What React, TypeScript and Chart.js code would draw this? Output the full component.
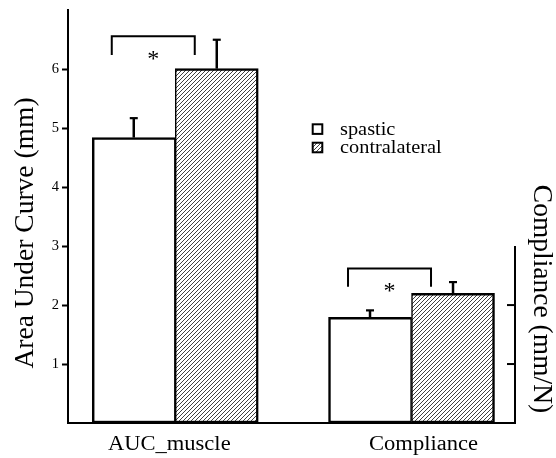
import React, { useEffect, useRef } from 'react';
import { Chart, registerables } from 'chart.js';

Chart.register(...registerables);

const categories = ['AUC_muscle', 'Compliance'];
const seriesNames = ['spastic', 'contralateral'];
const spastic = [4.84, 1.79];
const contralateral = [6.01, 2.2];
const spasticErr = [0.33, 0.12];
const contralateralErr = [0.49, 0.19];
const bracketTop = [6.56, 2.62];
const bracketBottom = [6.24, 2.31];
const significance = ['*', '*'];
const leftTicks = [1, 2, 3, 4, 5, 6];
const rightTicks = [1, 2];
const leftAxisMax = 7;
const rightAxisMax = 3;
const leftTitle = 'Area Under Curve (mm)';
const rightTitle = 'Compliance (mm/N)';

const SERIF = '"Liberation Serif", "Times New Roman", serif';

function makeHatch(): CanvasPattern | string {
  const c = document.createElement('canvas');
  c.width = 4;
  c.height = 4;
  const g = c.getContext('2d');
  if (!g) return '#888';
  g.fillStyle = '#fff';
  g.fillRect(0, 0, 4, 4);
  g.strokeStyle = '#2a2a2a';
  g.lineWidth = 0.9;
  g.beginPath();
  g.moveTo(0, 4);
  g.lineTo(4, 0);
  g.moveTo(-1, 1);
  g.lineTo(1, -1);
  g.moveTo(3, 5);
  g.lineTo(5, 3);
  g.stroke();
  return g.createPattern(c, 'repeat') || '#888';
}

function stretchedText(ctx: CanvasRenderingContext2D, text: string, x: number, y: number, sx: number, align: CanvasTextAlign) {
  ctx.save();
  ctx.translate(x, y);
  ctx.scale(sx, 1);
  ctx.textAlign = align;
  ctx.textBaseline = 'alphabetic';
  ctx.fillText(text, 0, 0);
  ctx.restore();
}

export default function App() {
  const ref = useRef<HTMLCanvasElement | null>(null);

  useEffect(() => {
    const canvas = ref.current;
    if (!canvas) return;
    const hatch = makeHatch();
    const values = [spastic, contralateral];
    const errors = [spasticErr, contralateralErr];
    const labelNudge = [-6, 12];

    const overlay = {
      id: 'overlay',
      afterDraw(chart: any) {
        const ctx: CanvasRenderingContext2D = chart.ctx;
        const area = chart.chartArea;
        const y = chart.scales.y;
        const y2 = chart.scales.y2;
        ctx.save();
        ctx.strokeStyle = '#000';
        ctx.fillStyle = '#000';
        ctx.lineCap = 'butt';

        // right axis (Compliance)
        ctx.lineWidth = 2;
        ctx.beginPath();
        ctx.moveTo(area.right, y2.getPixelForValue(0) + 1);
        ctx.lineTo(area.right, y2.getPixelForValue(rightAxisMax));
        ctx.stroke();
        rightTicks.forEach((v) => {
          const py = y2.getPixelForValue(v);
          ctx.beginPath();
          ctx.moveTo(area.right - 8, py);
          ctx.lineTo(area.right, py);
          ctx.stroke();
        });

        // error bars
        [0, 1].forEach((d) => {
          const meta = chart.getDatasetMeta(d);
          meta.data.forEach((bar: any, i: number) => {
            const top = y.getPixelForValue(values[d][i]);
            const et = y.getPixelForValue(values[d][i] + errors[d][i]);
            ctx.lineWidth = 2.5;
            ctx.beginPath();
            ctx.moveTo(bar.x, top);
            ctx.lineTo(bar.x, et);
            ctx.stroke();
            ctx.lineWidth = 2.2;
            ctx.beginPath();
            ctx.moveTo(bar.x - 4, et);
            ctx.lineTo(bar.x + 4, et);
            ctx.stroke();
          });
        });

        // significance brackets
        categories.forEach((_, i) => {
          const a = chart.getDatasetMeta(0).data[i].x - 22;
          const b = chart.getDatasetMeta(1).data[i].x - 22;
          const t = y.getPixelForValue(bracketTop[i]);
          const bt = y.getPixelForValue(bracketBottom[i]);
          ctx.lineWidth = 2;
          ctx.beginPath();
          ctx.moveTo(a, bt);
          ctx.lineTo(a, t);
          ctx.lineTo(b, t);
          ctx.lineTo(b, bt);
          ctx.stroke();
          ctx.font = `24px ${SERIF}`;
          ctx.textAlign = 'center';
          ctx.textBaseline = 'alphabetic';
          ctx.fillText(significance[i], (a + b) / 2, bt + 11);
        });

        // category labels
        ctx.font = `20.5px ${SERIF}`;
        categories.forEach((c, i) => {
          const cx = (chart.getDatasetMeta(0).data[i].x + chart.getDatasetMeta(1).data[i].x) / 2;
          stretchedText(ctx, c, cx + labelNudge[i], 450, 1.1, 'center');
        });

        // legend
        ctx.lineWidth = 2;
        ctx.fillStyle = '#fff';
        ctx.fillRect(312.7, 124.3, 9.6, 9.6);
        ctx.strokeRect(312.7, 124.3, 9.6, 9.6);
        ctx.fillStyle = hatch as any;
        ctx.fillRect(312.7, 142.7, 9.6, 9.6);
        ctx.strokeRect(312.7, 142.7, 9.6, 9.6);
        ctx.fillStyle = '#000';
        ctx.font = `18.5px ${SERIF}`;
        stretchedText(ctx, seriesNames[0], 340, 134.5, 1.1, 'left');
        stretchedText(ctx, seriesNames[1], 340, 153, 1.1, 'left');

        // axis titles
        ctx.font = `27.5px ${SERIF}`;
        ctx.textAlign = 'center';
        ctx.textBaseline = 'alphabetic';
        ctx.save();
        ctx.translate(33.3, 233);
        ctx.rotate(-Math.PI / 2);
        ctx.fillText(leftTitle, 0, 0);
        ctx.restore();
        ctx.save();
        ctx.translate(534, 299);
        ctx.rotate(Math.PI / 2);
        ctx.fillText(rightTitle, 0, 0);
        ctx.restore();

        ctx.restore();
      },
    };

    const chart = new Chart(canvas, {
      type: 'bar',
      data: {
        datasets: [
          {
            label: seriesNames[0],
            data: categories.map((_, i) => ({ x: i, y: spastic[i] })),
            backgroundColor: '#ffffff',
            borderColor: '#000000',
            borderWidth: { top: 2.5, left: 2.5, bottom: 2.5, right: 1.5 },
            borderSkipped: false,
            barThickness: 83,
          },
          {
            label: seriesNames[1],
            data: categories.map((_, i) => ({ x: i, y: contralateral[i] })),
            backgroundColor: hatch as any,
            borderColor: '#000000',
            borderWidth: { top: 2.5, left: 1.5, bottom: 2.5, right: 2.5 },
            borderSkipped: false,
            barThickness: 83,
          },
        ],
      } as any,
      options: {
        responsive: false,
        animation: false,
        devicePixelRatio: 1,
        layout: { padding: { left: 0, right: 41, top: 10, bottom: 0 } },
        plugins: { legend: { display: false }, tooltip: { enabled: false } },
        scales: {
          x: {
            type: 'linear',
            offset: false,
            min: -0.454,
            max: 1.438,
            grid: { display: false, drawTicks: false, offset: false },
            border: { display: true, color: '#000', width: 2 },
            ticks: { display: false },
            afterFit: (s: any) => {
              s.height = 35;
            },
          },
          y: {
            type: 'linear',
            position: 'left',
            min: 0,
            max: leftAxisMax,
            afterBuildTicks: (s: any) => {
              s.ticks = leftTicks.map((v) => ({ value: v }));
            },
            afterFit: (s: any) => {
              s.width = 68;
            },
            grid: {
              display: true,
              drawOnChartArea: false,
              drawTicks: true,
              tickLength: 6,
              tickWidth: 2,
              tickColor: '#000',
            },
            border: { display: true, color: '#000', width: 2 },
            ticks: {
              color: '#000',
              padding: 3,
              font: { family: SERIF, size: 14.5, lineHeight: 1 },
            },
          },
          y2: {
            type: 'linear',
            position: 'right',
            min: 0,
            max: leftAxisMax,
            display: false,
          },
        },
      } as any,
      plugins: [overlay],
    });

    return () => {
      chart.destroy();
    };
  }, []);

  return (
    <div style={{ position: 'fixed', left: 0, top: 0, width: 556, height: 458, background: '#fff' }}>
      <canvas ref={ref} width={556} height={458} style={{ display: 'block' }} />
    </div>
  );
}
